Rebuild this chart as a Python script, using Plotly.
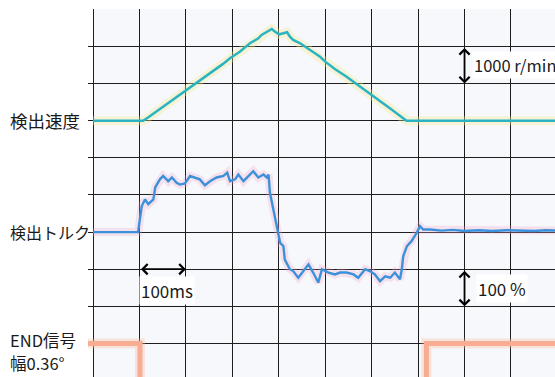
import plotly.graph_objects as go

# ---------------- data (time in ms) ----------------
speed_t = [0, 108, 120, 140, 160, 180, 200, 220, 240, 260,
           280, 295, 316, 338, 356, 363, 370, 377, 385, 392,
           401, 410, 418, 424, 431, 446, 467, 489, 500, 520,
           546, 570, 601, 620, 640, 660, 675, 996]
speed_rpm = [0, 0, 100, 280, 460, 640, 820, 1000, 1170, 1340,
             1530, 1681, 1858, 2085, 2219, 2308, 2354, 2397, 2470, 2397,
             2327, 2354, 2381, 2262, 2173, 2085, 1900, 1720, 1590, 1400,
             1185, 960, 692, 510, 330, 140, 0, 0]

torque_t = [0, 97, 105, 112, 119, 130, 134, 144, 151, 162,
            170, 180, 187, 198, 209, 220, 230, 241, 252, 266,
            281, 289, 295, 306, 313, 324, 334, 345, 356, 367,
            374, 378, 381, 388, 396, 403, 410, 413, 424, 431,
            442, 453, 464, 474, 485, 493, 507, 521, 532, 546,
            561, 571, 586, 596, 607, 618, 629, 640, 650, 661,
            665, 668, 676, 686, 697, 704, 711, 726, 750, 775,
            800, 830, 860, 890, 920, 950, 975, 996]
torque_pct = [0, 0, 70, 88, 75, 88, 120, 142, 151, 137,
              147, 133, 128, 131, 151, 147, 142, 126, 137, 147,
              151, 160, 137, 142, 155, 137, 151, 164, 147, 155,
              147, 155, 106, 61, 7, -29, -38, -74, -100, -105,
              -123, -105, -87, -109, -136, -100, -109, -114, -109, -109,
              -114, -123, -100, -105, -114, -132, -119, -123, -109, -127,
              -100, -65, -38, -24, -2, 16, 7, 7, 4, 6,
              3, 5, 3, 5, 4, 3, 5, 4]

end_t = [-12, 101, 718, 996]
end_state = [1, 0, 1, 1]

labels = ["検出速度", "検出トルク", "END信号", "幅0.36°"]
scale_texts = ["1000 r/min", "100ms", "100 %"]

# ---------------- geometry ----------------
W, H = 555, 377
ML, MT = 88, 9
X0, X1 = -10.77, 994.8          # ms range (grid: 100 ms / division)
Y0, Y1 = 0.097, 10.008          # divisions range

SPEED_BASE, SPEED_PER_DIV = 7, 1000
TORQUE_BASE, TORQUE_PER_DIV = 4, 100
END_LOW_DIV, END_HIGH_DIV = -0.5, 1

def rng(base, per):
    return [(Y0 - base) * per, (Y1 - base) * per]

end_scale = END_HIGH_DIV - END_LOW_DIV
end_range = [(Y0 - END_LOW_DIV) / end_scale, (Y1 - END_LOW_DIV) / end_scale]

FONT = "Noto Sans CJK JP"

fig = go.Figure()

# glows
fig.add_trace(go.Scatter(x=speed_t, y=speed_rpm, yaxis="y2", mode="lines",
                         line=dict(color="rgba(240,232,140,0.35)", width=9),
                         hoverinfo="skip", showlegend=False))
fig.add_trace(go.Scatter(x=torque_t, y=torque_pct, yaxis="y3", mode="lines",
                         line=dict(color="rgba(240,160,200,0.28)", width=8),
                         hoverinfo="skip", showlegend=False))
fig.add_trace(go.Scatter(x=end_t, y=end_state, yaxis="y4", mode="lines",
                         line=dict(color="rgba(250,190,160,0.35)", width=10, shape="hv"),
                         hoverinfo="skip", showlegend=False))
# main lines
fig.add_trace(go.Scatter(x=end_t, y=end_state, yaxis="y4", mode="lines",
                         line=dict(color="#f8ad92", width=5, shape="hv"),
                         showlegend=False))
fig.add_trace(go.Scatter(x=speed_t, y=speed_rpm, yaxis="y2", mode="lines",
                         line=dict(color="#2ab4c3", width=2.5),
                         showlegend=False))
fig.add_trace(go.Scatter(x=torque_t, y=torque_pct, yaxis="y3", mode="lines",
                         line=dict(color="#3b92da", width=2.4),
                         showlegend=False))

shapes = [
    dict(type="rect", xref="x", yref="paper", x0=0, x1=X1 + 10, y0=0, y1=1,
         fillcolor="#f7f8fc", line=dict(width=0), layer="below"),
    dict(type="rect", xref="x", yref="paper", x0=X0 - 5, x1=-1.4, y0=0, y1=1,
         fillcolor="white", line=dict(width=0), layer="between"),
]

ann = []
txt_font = dict(family=FONT, size=17, color="#1a1a1a")
label_x = (8 - ML) / (W - ML)
ann.append(dict(text=labels[0], xref="paper", yref="y", x=label_x, y=SPEED_BASE,
                xanchor="left", yanchor="middle", showarrow=False,
                font=dict(family=FONT, size=17.5, color="#1a1a1a")))
ann.append(dict(text=labels[1], xref="paper", yref="y", x=label_x, y=TORQUE_BASE,
                xanchor="left", yanchor="middle", showarrow=False,
                font=dict(family=FONT, size=16, color="#1a1a1a")))
ann.append(dict(text=labels[2], xref="paper", yref="y", x=label_x, y=1.10,
                xanchor="left", yanchor="middle", showarrow=False,
                font=dict(family=FONT, size=16.5, color="#1a1a1a")))
ann.append(dict(text=labels[3], xref="paper", yref="y", x=label_x, y=0.47,
                xanchor="left", yanchor="middle", showarrow=False,
                font=dict(family=FONT, size=16.5, color="#1a1a1a")))

arrow_kw = dict(xref="x", yref="y", axref="x", ayref="y", text="", showarrow=True,
                arrowhead=4, startarrowhead=4, arrowside="end+start",
                arrowsize=1.1, startarrowsize=1.1, arrowwidth=1.8, arrowcolor="black",
                standoff=0, startstandoff=0)
ann.append(dict(x=800, y=8, ax=800, ay=9, **arrow_kw))
ann.append(dict(x=200, y=3, ax=100, ay=3, **arrow_kw))
ann.append(dict(x=800, y=2, ax=800, ay=3, **arrow_kw))

ann.append(dict(text=scale_texts[0], xref="x", yref="y", x=815, y=8.5,
                xanchor="left", yanchor="middle", showarrow=False,
                font=dict(family=FONT, size=16.5, color="#1a1a1a"),
                bgcolor="white", borderpad=1))
ann.append(dict(text=scale_texts[1], xref="x", yref="y", x=100, y=2.42,
                xanchor="left", yanchor="middle", showarrow=False, font=txt_font,
                bgcolor="white", borderpad=1))
ann.append(dict(text=scale_texts[2], xref="x", yref="y", x=824, y=2.48,
                xanchor="left", yanchor="middle", showarrow=False, font=txt_font,
                bgcolor="white", borderpad=1))

grid_col = "#1e1e1e"
fig.update_layout(
    width=W, height=H,
    margin=dict(l=ML, r=0, t=MT, b=0, pad=0),
    paper_bgcolor="white", plot_bgcolor="white",
    showlegend=False,
    xaxis=dict(range=[X0, X1], tick0=0, dtick=100, showgrid=True, gridcolor=grid_col,
               gridwidth=1.2, zeroline=False, showticklabels=False, ticks="",
               showline=False, fixedrange=True),
    yaxis=dict(range=[Y0, Y1], tick0=0, dtick=1, showgrid=True, gridcolor=grid_col,
               gridwidth=1.2, zeroline=False, showticklabels=False, ticks="",
               showline=False, fixedrange=True),
    yaxis2=dict(range=rng(SPEED_BASE, SPEED_PER_DIV), overlaying="y", visible=False),
    yaxis3=dict(range=rng(TORQUE_BASE, TORQUE_PER_DIV), overlaying="y", visible=False),
    yaxis4=dict(range=end_range, overlaying="y", visible=False),
    shapes=shapes,
    annotations=ann,
    font=dict(family=FONT),
)

fig.write_html("out.html")
